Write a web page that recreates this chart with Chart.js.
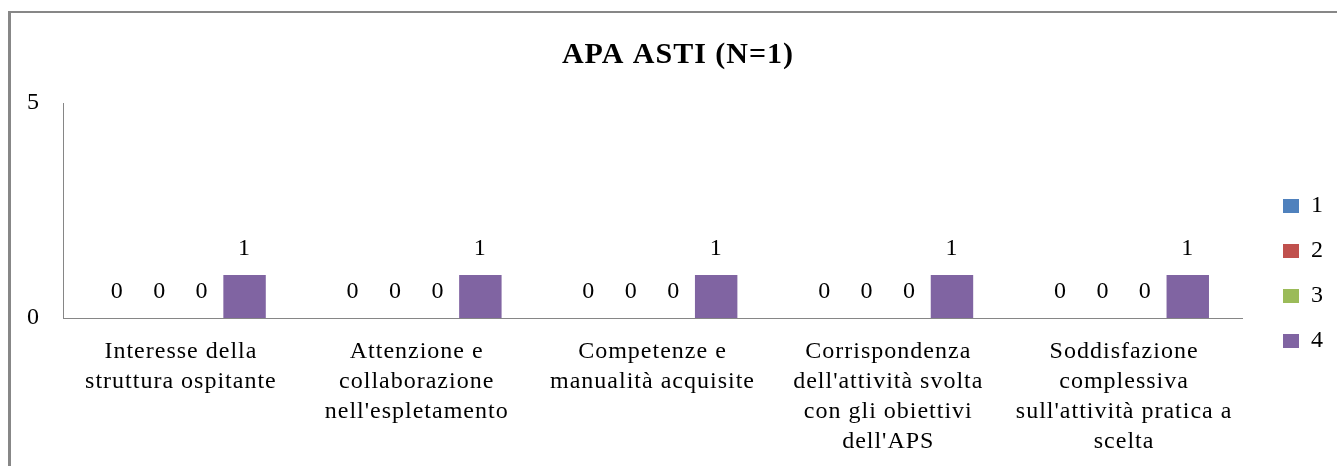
<!DOCTYPE html>
<html>
<head>
<meta charset="utf-8">
<script src="https://cdn.jsdelivr.net/npm/chart.js@4.4.0/dist/chart.umd.min.js"></script>
<style>
  html, body { margin: 0; padding: 0; background: #ffffff; overflow: hidden; }
  #wrap { position: relative; width: 1337px; height: 466px; overflow: hidden; background: #fff; }
  #c { position: absolute; left: 0; top: 0; }
  #frame { position: absolute; left: 8px; top: 11px; width: 3000px; height: 3000px;
           border-left: 3px solid #878787; border-top: 2px solid #878787; pointer-events: none; }
</style>
</head>
<body>
<div id="wrap">
  <canvas id="c" width="1354" height="547"></canvas>
  <div id="frame"></div>
</div>
<script>
const chartTitle = "APA ASTI (N=1)";
const categories = [
  ["Interesse della", "struttura ospitante"],
  ["Attenzione e", "collaborazione", "nell'espletamento"],
  ["Competenze e", "manualità acquisite"],
  ["Corrispondenza", "dell'attività svolta", "con gli obiettivi", "dell'APS"],
  ["Soddisfazione", "complessiva", "sull'attività pratica a", "scelta"]
];
const seriesNames = ["1", "2", "3", "4"];
const series1 = [0, 0, 0, 0, 0];
const series2 = [0, 0, 0, 0, 0];
const series3 = [0, 0, 0, 0, 0];
const series4 = [1, 1, 1, 1, 1];
const seriesColors = ["#4F81BD", "#C0504D", "#9BBB59", "#8064A2"];
const yMin = 0, yMax = 5, yStep = 5;

const FONT = "'Liberation Serif', 'Times New Roman', serif";

const spacingPlugin = {
  id: 'spacing',
  beforeUpdate(chart) { chart.ctx.letterSpacing = '1px'; },
  beforeLayout(chart) { chart.ctx.letterSpacing = '1px'; },
  beforeDraw(chart) { chart.ctx.letterSpacing = '1px'; }
};

const valueLabels = {
  id: 'valueLabels',
  afterDatasetsDraw(chart) {
    const ctx = chart.ctx;
    ctx.save();
    ctx.letterSpacing = '1px';
    ctx.font = "24px " + FONT;
    ctx.fillStyle = '#000';
    ctx.textAlign = 'center';
    ctx.textBaseline = 'middle';
    chart.data.datasets.forEach((ds, di) => {
      const meta = chart.getDatasetMeta(di);
      meta.data.forEach((el, i) => {
        ctx.fillText(String(ds.data[i]), el.x, el.y - 26);
      });
    });
    ctx.restore();
  }
};

const datasets = [series1, series2, series3, series4].map((d, i) => ({
  label: seriesNames[i],
  data: d,
  backgroundColor: seriesColors[i],
  borderWidth: 0,
  categoryPercentage: 0.72,
  barPercentage: 1.0
}));

new Chart(document.getElementById('c'), {
  type: 'bar',
  data: { labels: categories, datasets },
  plugins: [spacingPlugin, valueLabels],
  options: {
    responsive: false,
    animation: false,
    devicePixelRatio: 1,
    layout: { padding: { left: 22, right: 20, top: 0, bottom: 0 } },
    plugins: {
      tooltip: { enabled: false },
      title: {
        display: true,
        text: chartTitle,
        color: '#000',
        font: { family: FONT, size: 30, weight: 'bold', lineHeight: 1.2 },
        padding: { top: 37, bottom: 30 }
      },
      legend: {
        display: true,
        position: 'right',
        align: 'center',
        labels: {
          color: '#000',
          font: { family: FONT, size: 24 },
          boxWidth: 16,
          boxHeight: 14,
          padding: 21
        }
      }
    },
    scales: {
      x: {
        grid: { display: false, drawTicks: false },
        border: { display: true, color: '#868686', width: 1 },
        ticks: {
          color: '#000',
          font: { family: FONT, size: 24, lineHeight: 30 / 24 },
          padding: 19,
          maxRotation: 0,
          autoSkip: false
        },
        afterFit(s) { s.height = 229; }
      },
      y: {
        min: yMin, max: yMax,
        grid: { display: false, drawTicks: false },
        border: { display: true, color: '#868686', width: 1 },
        ticks: {
          stepSize: yStep,
          color: '#000',
          font: { family: FONT, size: 24 },
          padding: 23
        },
        afterFit(s) { s.width = 41; }
      },
      spacer: {
        type: 'linear',
        position: 'right',
        display: true,
        grid: { display: false, drawTicks: false },
        border: { display: false },
        ticks: { display: false },
        afterFit(s) { s.width = 20; }
      }
    }
  }
});
</script>
</body>
</html>
